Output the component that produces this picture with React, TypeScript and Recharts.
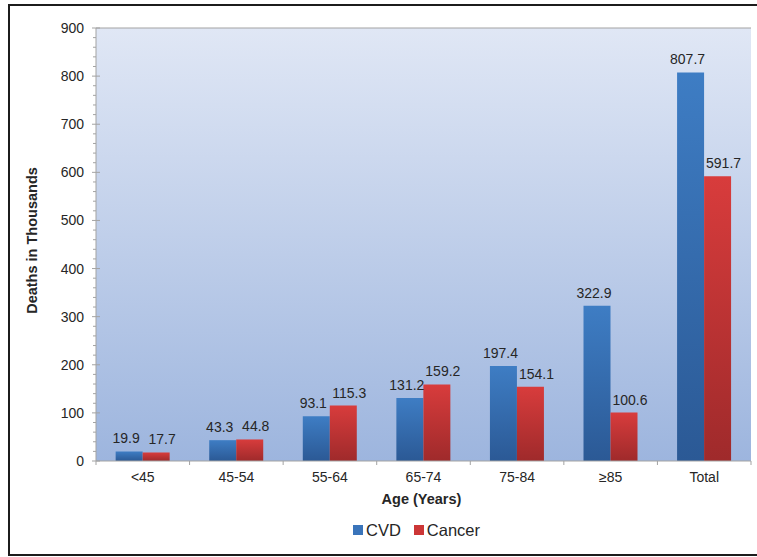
import { BarChart, Bar, XAxis, YAxis, CartesianGrid, Legend, LabelList, ReferenceLine } from 'recharts';

// Deaths (thousands) by age group, CVD vs cancer
const ageGroups = ['<45', '45-54', '55-64', '65-74', '75-84', '≥85', 'Total'];
const cvdDeaths = [19.9, 43.3, 93.1, 131.2, 197.4, 322.9, 807.7];
const cancerDeaths = [17.7, 44.8, 115.3, 159.2, 154.1, 100.6, 591.7];
const yMajorTicks = [0, 100, 200, 300, 400, 500, 600, 700, 800, 900];
const yMinorSteps = [20, 40, 60, 80];
const seriesNames = { cvd: 'CVD', cancer: 'Cancer' };

const data = ageGroups.map((age, i) => ({ age, cvd: cvdDeaths[i], cancer: cancerDeaths[i] }));
const yTicks = yMajorTicks.flatMap((t, i) =>
  i < yMajorTicks.length - 1 ? [t, ...yMinorSteps.map((s) => t + s)] : [t]
);

const AXIS = '#a3a3a3';
const TEXT = '#262626';
const FONT = "'Liberation Sans', Arial, sans-serif";
const SOLID = { cvd: '#3a74ba', cancer: '#cc3636' };

function YTick(props: any) {
  const { x, y, payload } = props;
  const v = payload.value;
  const major = yMajorTicks.includes(v);
  return (
    <g>
      <line x1={major ? x - 4 : x - 3} x2={major ? x + 4 : x} y1={y} y2={y} stroke={AXIS} />
      {major && (
        <text x={x - 12} y={y} dy={5} textAnchor="end" fontSize={14} fill={TEXT}>
          {v}
        </text>
      )}
    </g>
  );
}

function XTick(props: any) {
  const { x, y, payload, index, visibleTicksCount } = props;
  const count = visibleTicksCount || ageGroups.length;
  const band = (Number(props.width) || 655) / count;
  return (
    <g>
      <line x1={x - band / 2} x2={x - band / 2} y1={y} y2={y + 4} stroke={AXIS} />
      {index === count - 1 && <line x1={x + band / 2} x2={x + band / 2} y1={y} y2={y + 4} stroke={AXIS} />}
      <text x={x} y={y} dy={21} textAnchor="middle" fontSize={14} fill={TEXT}>
        {payload.value}
      </text>
    </g>
  );
}

// value label above a bar, nudged sideways a little like the original
function barLabel(shift: number) {
  return (p: any) => {
    const { x, y, width, value } = p;
    return (
      <text x={x + width / 2 + shift} y={y - 8} textAnchor="middle" fontSize={14} fill={TEXT}>
        {Number(value).toFixed(1)}
      </text>
    );
  };
}

function LegendContent(props: any) {
  const items = props.payload || [];
  return (
    <div style={{ display: 'flex', alignItems: 'center', height: 28, paddingLeft: 343, fontFamily: FONT }}>
      {items.map((it: any) => (
        <div key={it.dataKey} style={{ display: 'flex', alignItems: 'center', marginRight: 13 }}>
          <span style={{ width: 10, height: 10, background: SOLID[it.dataKey as 'cvd' | 'cancer'], marginRight: 3 }} />
          <span style={{ fontSize: 16.5, color: TEXT }}>{it.value}</span>
        </div>
      ))}
    </div>
  );
}

export default function App() {
  return (
    <div>
      <style>{`body{margin:0;overflow:hidden}`}</style>
      <div
        style={{
          marginLeft: 8,
          marginTop: 4,
          width: 747,
          height: 548,
          borderLeft: '2px solid #1c1c1c',
          borderTop: '2px solid #1c1c1c',
          borderBottom: '2px solid #1c1c1c',
          background: '#fff',
          fontFamily: FONT,
        }}
      >
        <BarChart
          width={747}
          height={548}
          data={data}
          margin={{ top: 22, right: 6, bottom: 0, left: 0 }}
          barCategoryGap="21%"
          barGap={0}
        >
          <defs>
            <linearGradient id="plotBg" x1="0" y1="0" x2="0" y2="1">
              <stop offset="0%" stopColor="#e0e7f5" />
              <stop offset="100%" stopColor="#9db5de" />
            </linearGradient>
            <linearGradient id="cvdFill" x1="0" y1="0" x2="0" y2="1">
              <stop offset="0%" stopColor="#3e7dc4" />
              <stop offset="100%" stopColor="#2b5995" />
            </linearGradient>
            <linearGradient id="cancerFill" x1="0" y1="0" x2="0" y2="1">
              <stop offset="0%" stopColor="#d83c3c" />
              <stop offset="100%" stopColor="#9f2a2b" />
            </linearGradient>
          </defs>
          <CartesianGrid fill="url(#plotBg)" horizontal={false} vertical={false} />
          <XAxis
            dataKey="age"
            interval={0}
            height={55}
            tickSize={0}
            tickMargin={0}
            tickLine={false}
            axisLine={{ stroke: AXIS }}
            tick={<XTick />}
            label={{
              content: (p: any) => {
                const vb = p.viewBox || {};
                return (
                  <text x={vb.x + vb.width / 2 - 2} y={vb.y + 43} textAnchor="middle" fontSize={14.5} fontWeight="bold" fill={TEXT}>
                    Age (Years)
                  </text>
                );
              },
            }}
          />
          <YAxis
            width={86}
            domain={[0, 900]}
            ticks={yTicks}
            interval={0}
            tickSize={0}
            tickMargin={0}
            tickLine={false}
            axisLine={{ stroke: AXIS }}
            tick={<YTick />}
            label={{
              content: (p: any) => {
                const vb = p.viewBox || {};
                const cy = vb.y + vb.height / 2 - 4;
                return (
                  <text x={21} y={cy} transform={`rotate(-90, 21, ${cy})`} dy={5.5} textAnchor="middle" fontSize={14.5} fontWeight="bold" fill={TEXT}>
                    Deaths in Thousands
                  </text>
                );
              },
            }}
          />
          <YAxis yAxisId="frame" orientation="right" width={0} domain={[0, 900]} tick={false} tickLine={false} axisLine={{ stroke: AXIS }} />
          <ReferenceLine y={900} stroke={AXIS} />
          <Legend verticalAlign="bottom" content={<LegendContent />} wrapperStyle={{ height: 38 }} />
          <Bar dataKey="cvd" name={seriesNames.cvd} fill="url(#cvdFill)" isAnimationActive={false}>
            <LabelList dataKey="cvd" content={barLabel(-3)} />
          </Bar>
          <Bar dataKey="cancer" name={seriesNames.cancer} fill="url(#cancerFill)" isAnimationActive={false}>
            <LabelList dataKey="cancer" content={barLabel(6)} />
          </Bar>
        </BarChart>
      </div>
    </div>
  );
}
